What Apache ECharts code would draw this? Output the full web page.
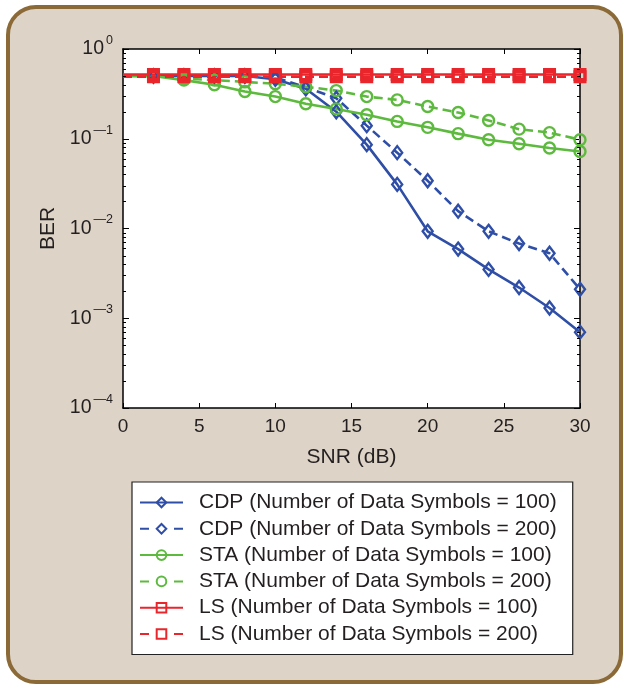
<!DOCTYPE html>
<html>
<head>
<meta charset="utf-8">
<script src="https://cdn.jsdelivr.net/npm/echarts@6/dist/echarts.min.js"></script>
<style>
  html, body { margin: 0; padding: 0; background: #ffffff; }
  #chart { width: 624px; height: 688px; }
</style>
</head>
<body>
<div id="chart"></div>
<script>
// SNR sample points (dB); the x = 0 point only anchors the line start
const snr = [0, 2, 4, 6, 8, 10, 12, 14, 16, 18, 20, 22, 24, 26, 28, 30];

// Bit error rate curves
const cdp100 = [0.5, 0.5, 0.5, 0.5, 0.5, 0.46, 0.36, 0.2, 0.086, 0.031, 0.0093, 0.0059, 0.0035, 0.0022, 0.0013, 0.0007];
const cdp200 = [0.5, 0.5, 0.5, 0.5, 0.5, 0.48, 0.375, 0.283, 0.14, 0.07, 0.034, 0.0156, 0.0093, 0.0068, 0.0053, 0.0021];
const sta100 = [0.5, 0.5, 0.45, 0.40, 0.336, 0.295, 0.245, 0.215, 0.185, 0.156, 0.134, 0.114, 0.0975, 0.088, 0.079, 0.072];
const sta200 = [0.5, 0.5, 0.47, 0.45, 0.43, 0.41, 0.38, 0.344, 0.295, 0.271, 0.229, 0.196, 0.16, 0.128, 0.117, 0.0975];
const ls100  = [0.52, 0.52, 0.52, 0.52, 0.52, 0.52, 0.52, 0.52, 0.52, 0.52, 0.52, 0.52, 0.52, 0.52, 0.52, 0.52];
const ls200  = [0.49, 0.49, 0.49, 0.49, 0.49, 0.49, 0.49, 0.49, 0.49, 0.49, 0.49, 0.49, 0.49, 0.49, 0.49, 0.49];

const seriesNames = [
  'CDP (Number of Data Symbols = 100)',
  'CDP (Number of Data Symbols = 200)',
  'STA (Number of Data Symbols = 100)',
  'STA (Number of Data Symbols = 200)',
  'LS (Number of Data Symbols = 100)',
  'LS (Number of Data Symbols = 200)'
];

// x tick labels and y decade exponents
const xTicks = [0, 5, 10, 15, 20, 25, 30];
const yExponents = [0, -1, -2, -3, -4];

const BLUE = '#2f4ea6';
const GREEN = '#5dba3e';
const RED = '#e9262c';
const TEXT = '#231f20';
const FONT = '"Liberation Sans", Arial, Helvetica, sans-serif';
const DASH = [9, 5];

const chart = echarts.init(document.getElementById('chart'), null, { renderer: 'canvas' });

function toPoints(values) {
  return snr.map((x, i) => i === 0
    ? { value: [x, values[i]], symbol: 'none' }
    : [x, values[i]]);
}

function makeSeries(name, values, color, dashed, symbol, size, bw) {
  return {
    name: name,
    type: 'line',
    data: toPoints(values),
    symbol: symbol,
    symbolSize: size,
    showSymbol: true,
    animation: false,
    lineStyle: { color: color, width: 2.6, type: dashed ? DASH : 'solid' },
    itemStyle: { color: 'rgba(255,255,255,0)', borderColor: color, borderWidth: bw },
    emphasis: { disabled: true }
  };
}

// "10" with a raised exponent; negative exponents use a long dash
function supLabel(v) {
  const e = Math.round(Math.log10(v));
  const exp = e < 0 ? '\u2014' + (-e) : String(e);
  return '{b|10}{s|' + exp + '}';
}

const richLabels = {
  b: { fontSize: 19.5, fontFamily: FONT, color: TEXT, padding: [0, 2, 0, 0] },
  s: { fontSize: 12.5, lineHeight: 12, fontFamily: FONT, color: TEXT, verticalAlign: 'bottom', padding: [0, 0, 12, 0] }
};

const legendData = seriesNames.map((n, i) => {
  const item = { name: n };
  if (i % 2 === 1) item.lineStyle = { type: [9, 25] };
  return item;
});

const option = {
  backgroundColor: 'transparent',
  textStyle: { fontFamily: FONT },
  grid: {
    left: 123, right: 44, top: 49, bottom: 280,
    show: true, backgroundColor: '#ffffff', borderWidth: 0
  },
  xAxis: [{
    type: 'value', min: 0, max: 30, interval: 5,
    position: 'bottom',
    name: 'SNR (dB)', nameLocation: 'middle', nameGap: 39,
    nameTextStyle: { fontSize: 21, color: TEXT, fontFamily: FONT },
    axisLine: { show: true, onZero: false, lineStyle: { color: '#000', width: 1.5 } },
    axisTick: { show: true, inside: true, length: 5, lineStyle: { color: '#000', width: 1 } },
    axisLabel: {
      fontSize: 19, color: TEXT, margin: 9, fontFamily: FONT,
      customValues: xTicks
    },
    splitLine: { show: false }
  }, {
    type: 'value', min: 0, max: 30, interval: 5,
    position: 'top',
    axisLine: { show: true, onZero: false, lineStyle: { color: '#000', width: 1.5 } },
    axisTick: { show: true, inside: true, length: 5, lineStyle: { color: '#000', width: 1 } },
    axisLabel: { show: false },
    splitLine: { show: false }
  }],
  yAxis: [{
    type: 'log', logBase: 10, min: 1e-4, max: 1,
    position: 'left',
    name: 'BER', nameLocation: 'middle', nameGap: 60,
    nameTextStyle: { fontSize: 21, color: TEXT, fontFamily: FONT },
    axisLine: { show: true, onZero: false, lineStyle: { color: '#000', width: 1.5 } },
    axisTick: { show: true, inside: true, length: 6, lineStyle: { color: '#000', width: 1 } },
    axisLabel: {
      margin: 10, formatter: supLabel, rich: richLabels,
      customValues: yExponents.map(e => Math.pow(10, e))
    },
    splitLine: { show: false }
  }, {
    type: 'log', logBase: 10, min: 1e-4, max: 1,
    position: 'right',
    axisLine: { show: true, onZero: false, lineStyle: { color: '#000', width: 1.5 } },
    axisTick: { show: true, inside: true, length: 6, lineStyle: { color: '#000', width: 1 } },
    axisLabel: { show: false },
    splitLine: { show: false }
  }],
  legend: {
    orient: 'vertical',
    left: 132, top: 482,
    backgroundColor: '#ffffff',
    borderColor: '#222',
    borderWidth: 1.2,
    borderRadius: 0,
    padding: [10, 16, 10, 7],
    itemWidth: 43, itemHeight: 12, itemGap: 5.3,
    selectedMode: false,
    textStyle: { fontSize: 21, lineHeight: 21, color: TEXT, fontFamily: FONT, padding: [0, 0, 0, 11] },
    data: legendData
  },
  graphic: {
    elements: [{
      type: 'rect', z: -10, silent: true,
      shape: { x: 8, y: 7, width: 613, height: 675, r: 28 },
      style: { fill: '#ddd4c7', stroke: '#8b6a37', lineWidth: 4 }
    }]
  },
  series: [
    makeSeries(seriesNames[0], cdp100, BLUE, false, 'diamond', [10, 13], 2.4),
    makeSeries(seriesNames[1], cdp200, BLUE, true, 'diamond', [10, 13], 2.4),
    makeSeries(seriesNames[2], sta100, GREEN, false, 'circle', 11, 2.4),
    makeSeries(seriesNames[3], sta200, GREEN, true, 'circle', 11, 2.4),
    makeSeries(seriesNames[4], ls100, RED, false, 'rect', 10, 3),
    makeSeries(seriesNames[5], ls200, RED, true, 'rect', 10, 3)
  ]
};

chart.setOption(option);

// Minor log ticks (2..9 within each decade) on the left and right frame edges
const minorTicks = [];
const xLeft = chart.convertToPixel({ xAxisIndex: 0 }, 0);
const xRight = chart.convertToPixel({ xAxisIndex: 0 }, 30);
for (let d = -4; d < 0; d++) {
  for (let k = 2; k <= 9; k++) {
    const py = Math.round(chart.convertToPixel({ yAxisIndex: 0 }, k * Math.pow(10, d))) + 0.5;
    minorTicks.push({
      type: 'line', silent: true, z: 5,
      shape: { x1: xLeft, y1: py, x2: xLeft + 3, y2: py },
      style: { stroke: '#000', lineWidth: 1 }
    });
    minorTicks.push({
      type: 'line', silent: true, z: 5,
      shape: { x1: xRight, y1: py, x2: xRight - 3, y2: py },
      style: { stroke: '#000', lineWidth: 1 }
    });
  }
}
chart.setOption({ graphic: { elements: option.graphic.elements.concat(minorTicks) } });
</script>
</body>
</html>
